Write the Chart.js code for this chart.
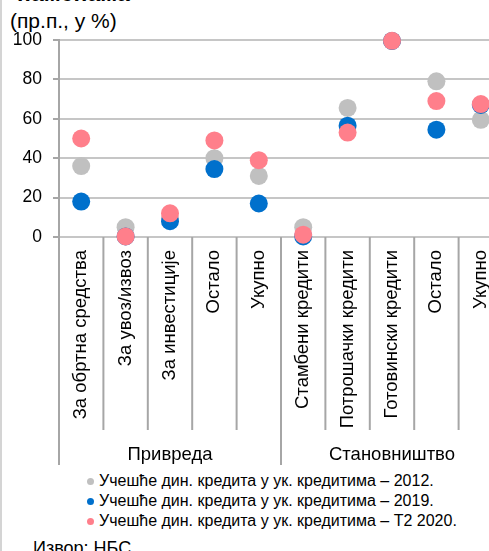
<!DOCTYPE html>
<html>
<head>
<meta charset="utf-8">
<script src="https://cdn.jsdelivr.net/npm/chart.js@4"></script>
<style>
    html, body { margin: 0; padding: 0; background: #fff; overflow: hidden; }
    body { width: 489px; height: 551px; position: relative; font-family: Arial, "Liberation Sans", sans-serif; color: #000; }
    #marco { position: absolute; left: 0; top: 0; width: 0; height: 551px; border-left: 2px solid #d4d4d4; }
    #titulo { position: absolute; left: 17px; top: -18px; font-size: 23px; line-height: 23px; font-weight: bold; white-space: nowrap; }
    #unidad { position: absolute; left: 10px; top: 9px; font-size: 21px; line-height: 24px; white-space: nowrap; }
    #grafico { position: absolute; left: 0; top: 0; width: 520px; height: 470px; }
    #leyenda { position: absolute; left: 87px; top: 471px; font-size: 16px; line-height: 20px; white-space: nowrap; }
    #leyenda span.punto { display: inline-block; width: 7px; height: 7px; border-radius: 50%; margin-right: 5px; vertical-align: 1px; }
    #fuente { position: absolute; left: 33px; top: 538px; font-size: 18px; line-height: 20px; white-space: nowrap; }
</style>
</head>
<body>
<div id="marco"></div>
<div id="titulo">наменама</div>
<div id="unidad">(пр.п., у %)</div>
<div id="grafico"><canvas id="chart" width="520" height="470"></canvas></div>
<div id="leyenda"></div>
<div id="fuente">Извор: НБС.</div>

<script>
const categorias = [
    "За обртна средства", "За увоз/извоз", "За инвестиције", "Остало", "Укупно",
    "Стамбени кредити", "Потрошачки кредити", "Готовински кредити", "Остало", "Укупно"
];

const grupos = ["Привреда", "Становништво"];
const grupoTamano = [5, 5];

const serie2012 = [36, 5, 9.5, 40, 31, 5, 65.5, 99.5, 79, 59.5];
const serie2019 = [18, 0.3, 8, 34.5, 17, 0.3, 56.5, 99.5, 54.5, 67];
const serie2020 = [50, 0.3, 12, 49, 39, 1.2, 53, 99.6, 69, 67.5];

const nombresSeries = [
    "Учешће дин. кредита у ук. кредитима – 2012.",
    "Учешће дин. кредита у ук. кредитима – 2019.",
    "Учешће дин. кредита у ук. кредитима – Т2 2020."
];

const yTicks = [0, 20, 40, 60, 80, 100];

const colores = ["#c0c0c0", "#0070cc", "#ff7f8b"];

const fuente = 'Arial, "Liberation Sans", sans-serif';

// separadores verticales bajo el eje y nombres de grupo
const separadores = {
    id: "separadores",
    afterDraw(chart) {
        const ctx = chart.ctx;
        const x = chart.scales.x;
        const area = chart.chartArea;
        const paso = x.getPixelForValue(1) - x.getPixelForValue(0);

        ctx.save();
        ctx.strokeStyle = "#a6a6a6";
        ctx.lineWidth = 2;

        let inicio = 0;
        grupoTamano.forEach((n, g) => {
            for (let i = inicio; i <= inicio + n; i++) {
                const px = x.getPixelForValue(i) - paso / 2;
                const esBorde = (i === inicio || i === inicio + n);
                ctx.beginPath();
                ctx.moveTo(px, area.bottom);
                ctx.lineTo(px, area.bottom + (esBorde ? 228 : 193));
                ctx.stroke();
            }
            const izq = x.getPixelForValue(inicio) - paso / 2;
            const der = x.getPixelForValue(inicio + n) - paso / 2;
            ctx.fillStyle = "#000";
            ctx.font = "18.5px " + fuente;
            ctx.textAlign = "center";
            ctx.textBaseline = "middle";
            ctx.fillText(grupos[g], (izq + der) / 2, area.bottom + 218);
            inicio += n;
        });
        ctx.restore();
    }
};

function crearLeyenda() {
    const cont = document.getElementById("leyenda");
    nombresSeries.forEach((nombre, i) => {
        const fila = document.createElement("div");
        const punto = document.createElement("span");
        punto.className = "punto";
        punto.style.background = colores[i];
        fila.appendChild(punto);
        fila.appendChild(document.createTextNode(nombre));
        cont.appendChild(fila);
    });
}

function serie(label, data, color, orden) {
    return {
        label: label,
        data: data,
        showLine: false,
        pointRadius: 9,
        pointHoverRadius: 9,
        pointBorderWidth: 0,
        pointBackgroundColor: color,
        borderColor: color,
        backgroundColor: color,
        order: orden,
        clip: false
    };
}

document.addEventListener("DOMContentLoaded", () => {
    crearLeyenda();

    new Chart(document.getElementById("chart"), {
        type: "line",
        data: {
            labels: categorias,
            datasets: [
                serie(nombresSeries[0], serie2012, colores[0], 3),
                serie(nombresSeries[1], serie2019, colores[1], 2),
                serie(nombresSeries[2], serie2020, colores[2], 1)
            ]
        },
        options: {
            responsive: false,
            maintainAspectRatio: false,
            animation: false,
            layout: { padding: { top: 40, right: 17, bottom: 0, left: 0 } },
            plugins: {
                legend: { display: false },
                tooltip: { enabled: false }
            },
            scales: {
                x: {
                    type: "category",
                    offset: true,
                    grid: { display: false, drawTicks: false },
                    border: { display: false },
                    ticks: {
                        autoSkip: false,
                        minRotation: 90,
                        maxRotation: 90,
                        padding: 13,
                        color: "#000",
                        font: { size: 18.5, family: fuente }
                    },
                    afterFit(scale) { scale.height = 233; }
                },
                y: {
                    min: 0,
                    max: 100,
                    afterBuildTicks(scale) { scale.ticks = yTicks.map(v => ({ value: v })); },
                    grid: { color: "#c6c6c6", lineWidth: 2, tickLength: 6, tickColor: "#a6a6a6" },
                    border: { color: "#a6a6a6", width: 2 },
                    ticks: {
                        padding: 11,
                        color: "#000",
                        font: { size: 17.5, family: fuente }
                    },
                    afterFit(scale) { scale.width = 59; }
                }
            }
        },
        plugins: [separadores]
    });
});
</script>
</body>
</html>
